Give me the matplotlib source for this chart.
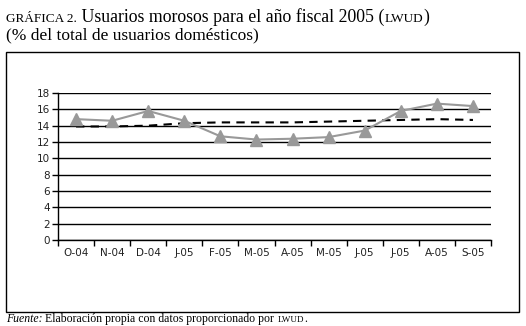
import numpy as np
import matplotlib
matplotlib.use('Agg')
import matplotlib.pyplot as plt
from matplotlib.patches import Rectangle

months = ['O-04', 'N-04', 'D-04', 'J-05', 'F-05', 'M-05',
          'A-05', 'M-05', 'J-05', 'J-05', 'A-05', 'S-05']
morosos = [14.8, 14.6, 15.8, 14.6, 12.7, 12.3, 12.4, 12.6, 13.4, 15.8, 16.7, 16.4]
tendencia = [13.9, 13.9, 14.0, 14.3, 14.4, 14.4, 14.4, 14.5, 14.6, 14.7, 14.8, 14.7]
yticks = [0, 2, 4, 6, 8, 10, 12, 14, 16, 18]

W, H = 526, 326
fig = plt.figure(figsize=(W / 100, H / 100), dpi=100)


def px(x, y):
    return x / W, 1 - y / H


# outer frame
fig.patches.append(Rectangle(px(6, 312), (519 - 6) / W, (312 - 52) / H,
                             transform=fig.transFigure, fill=False,
                             edgecolor='black', linewidth=1))

ax = fig.add_axes([58 / W, 1 - 240 / H, (491 - 58) / W, (240 - 93) / H])
xpos = np.arange(len(months)) + 0.5
ax.plot(xpos, tendencia, color='black', lw=1.5, ls=(0, (4, 3)), zorder=3)
ax.plot(xpos, morosos, color='#999999', lw=1.5, marker='^', ms=9,
        markerfacecolor='#999999', markeredgecolor='#999999', zorder=4)

ax.set_xlim(0, 12)
ax.set_ylim(0, 18)
ax.set_yticks(yticks)
ax.yaxis.grid(True, color='black', lw=1)
ax.set_axisbelow(True)
ax.set_xticks(np.arange(13), minor=True)
ax.set_xticks(xpos)
ax.set_xticklabels(months)
ax.tick_params(axis='x', which='major', length=0, pad=6, labelsize=7.5,
               labelcolor='#222222')
ax.tick_params(axis='x', which='minor', length=4, width=1, direction='out')
ax.tick_params(axis='y', length=4, width=1, labelsize=7.5, pad=2,
               labelcolor='#222222')
for s in ['top', 'right']:
    ax.spines[s].set_visible(False)
for s in ['left', 'bottom']:
    ax.spines[s].set_linewidth(1)

serif = 'Liberation Serif'
fig.canvas.draw()
renderer = fig.canvas.get_renderer()


def run(pieces, x, y):
    # write text pieces one after the other on one baseline
    for txt, size, style in pieces:
        t = fig.text(*px(x, y), txt, fontsize=size, family=serif,
                     style=style, va='baseline', ha='left')
        bb = t.get_window_extent(renderer)
        x += bb.width


run([('GRÁFICA 2.', 9.5, 'normal'),
     (' Usuarios morosos para el año fiscal 2005 (', 12.8, 'normal'),
     ('LWUD', 9.5, 'normal'), (')', 12.8, 'normal')], 6, 22)
run([('(% del total de usuarios domésticos)', 12.5, 'normal')], 6, 39)
run([('Fuente:', 8.5, 'italic'),
     (' Elaboración propia con datos proporcionado por ', 8.5, 'normal'),
     ('LWUD', 6.5, 'normal'), ('.', 8.5, 'normal')], 6, 322)

fig.savefig('out.png', dpi=100)
